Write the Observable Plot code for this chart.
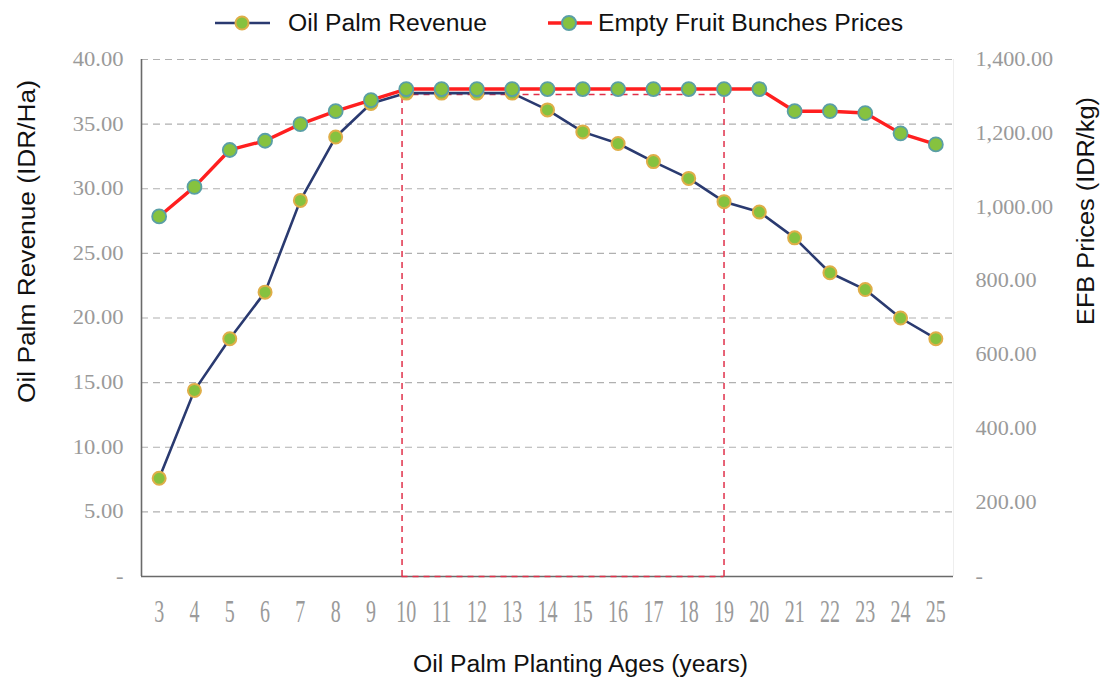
<!DOCTYPE html>
<html>
<head>
<meta charset="utf-8">
<script src="https://cdn.jsdelivr.net/npm/d3@7"></script>
<script src="https://cdn.jsdelivr.net/npm/@observablehq/plot@0.6"></script>
<style>
  html, body { margin: 0; padding: 0; background: #fff; }
  #wrap { position: relative; width: 1105px; height: 679px; overflow: hidden; }
  #wrap svg { position: absolute; left: 0; top: 0; }
  #overlay { pointer-events: none; }
</style>
</head>
<body>
<div id="wrap"></div>
<script>
// ---- data ----
const ages = [3, 4, 5, 6, 7, 8, 9, 10, 11, 12, 13, 14, 15, 16, 17, 18, 19, 20, 21, 22, 23, 24, 25];
const revenue = [7.6, 14.4, 18.4, 22.0, 29.1, 34.0, 36.6, 37.4, 37.4, 37.4, 37.4, 36.1, 34.4, 33.5, 32.1, 30.8, 29.0, 28.2, 26.2, 23.5, 22.2, 20.0, 18.4];
const efbPrices = [975, 1055, 1155, 1180, 1225, 1260, 1290, 1320, 1320, 1320, 1320, 1320, 1320, 1320, 1320, 1320, 1320, 1320, 1260, 1260, 1255, 1200, 1170];
const leftTicks = [0, 5, 10, 15, 20, 25, 30, 35, 40];
const rightTicks = [0, 200, 400, 600, 800, 1000, 1200, 1400];
const highlightAges = [9.88, 19];
const highlightLevel = 37.3;
const seriesNames = ["Oil Palm Revenue", "Empty Fruit Bunches Prices"];
const xTitle = "Oil Palm Planting Ages (years)";
const yLeftTitle = "Oil Palm Revenue (IDR/Ha)";
const yRightTitle = "EFB Prices (IDR/kg)";

const ratio = 1400 / 40; // right axis units per left axis unit

const revData = ages.map((a, i) => ({age: a, value: revenue[i]}));
const efbData = ages.map((a, i) => ({age: a, value: efbPrices[i] / ratio}));

const navy = "#2a3a70";
const red = "#ff1f1f";
const dashRed = "#e0304a";
const green = "#86c23f";
const gridGray = "#b0b0b0";
const tickGray = "#9a9a9a";
const fmt = d3.format(",.2f");

const chart = Plot.plot({
  width: 1105,
  height: 679,
  marginLeft: 141,
  marginRight: 152,
  marginTop: 59,
  marginBottom: 103,
  x: {domain: [2.5, 25.5]},
  y: {domain: [0, 40]},
  style: {fontFamily: "'Liberation Serif', serif", background: "white"},
  marks: [
    Plot.ruleY(leftTicks.filter(d => d > 0), {stroke: gridGray, strokeWidth: 1.2, strokeDasharray: "7,5"}),
    Plot.ruleX([25.5], {stroke: "#eeeeee"}),
    Plot.ruleX([2.5], {stroke: "#6a6a6a", strokeWidth: 1.6}),
    Plot.ruleY([0], {stroke: "#6a6a6a", strokeWidth: 1.6}),
    Plot.ruleX(highlightAges, {y1: 0, y2: highlightLevel, stroke: dashRed, strokeWidth: 1.5, strokeDasharray: "6,5"}),
    Plot.ruleY([highlightLevel], {x1: highlightAges[0], x2: highlightAges[1], stroke: dashRed, strokeWidth: 1.5, strokeDasharray: "6,5"}),
    Plot.ruleY([0], {x1: highlightAges[0], x2: highlightAges[1], stroke: dashRed, strokeWidth: 1.5, strokeDasharray: "6,5"}),
    Plot.line(revData, {x: "age", y: "value", stroke: navy, strokeWidth: 2.6}),
    Plot.dot(revData, {x: "age", y: "value", r: 6.5, fill: green, stroke: "#dfae48", strokeWidth: 2}),
    Plot.line(efbData, {x: "age", y: "value", stroke: red, strokeWidth: 3.4}),
    Plot.dot(efbData, {x: "age", y: "value", r: 7, fill: green, stroke: "#5a9fa6", strokeWidth: 1.8}),
    Plot.axisY(leftTicks, {anchor: "left", tickSize: 0, tickPadding: 18, fontSize: 20, fill: tickGray,
      tickFormat: d => d === 0 ? "-" : d.toFixed(2), label: null}),
    Plot.axisY(rightTicks.map(v => v / ratio), {anchor: "right", tickSize: 0, tickPadding: 22, fontSize: 20, fill: tickGray,
      tickFormat: d => { const v = Math.round(d * ratio); return v === 0 ? "-" : fmt(v); }, label: null}),
    Plot.axisX(ages, {anchor: "bottom", tickSize: 0, tickPadding: 23, fontSize: 20, fill: tickGray,
      tickFormat: d => String(d), label: null})
  ]
});

document.getElementById("wrap").appendChild(chart);

// Stretch tick label glyphs to match the reference's proportions
const svg = d3.select(chart);
svg.selectAll('g[aria-label="x-axis tick label"] text').each(function() {
  const t = this.getAttribute("transform") || "";
  this.setAttribute("transform", t + " scale(1,1.55)");
});
svg.selectAll('g[aria-label="y-axis tick label"]').each(function() {
  const g = d3.select(this);
  const anchor = g.attr("text-anchor");
  const sx = anchor === "start" ? 1.11 : 1.13;
  g.selectAll("text").each(function() {
    const t = this.getAttribute("transform") || "";
    this.setAttribute("transform", t + ` scale(${sx},1)`);
  });
});

// Titles and legend overlay
const ov = d3.select("#wrap").append("svg")
  .attr("id", "overlay")
  .attr("width", 1105).attr("height", 679)
  .attr("font-family", "'Liberation Sans', Arial, sans-serif")
  .attr("fill", "#111");

function title(txt, x, y, len, rot) {
  ov.append("text")
    .attr("transform", `translate(${x},${y})` + (rot ? ` rotate(${rot})` : ""))
    .attr("text-anchor", "middle")
    .attr("dominant-baseline", "central")
    .attr("font-size", 23)
    .attr("textLength", len)
    .attr("lengthAdjust", "spacingAndGlyphs")
    .text(txt);
}
title(xTitle, 580.5, 664, 335, 0);
title(yLeftTitle, 27, 241.5, 323, -90);
title(yRightTitle, 1086, 211, 228, -90);

// legend
const leg = [
  {name: seriesNames[0], x1: 215, x2: 270, mx: 242, tx: 288, len: 199, stroke: navy, sw: 2.6, ms: "#dfae48", r: 6.5},
  {name: seriesNames[1], x1: 548, x2: 592, mx: 569, tx: 598, len: 305, stroke: red, sw: 3.4, ms: "#5a9fa6", r: 7}
];
leg.forEach(l => {
  ov.append("line").attr("x1", l.x1).attr("x2", l.x2).attr("y1", 23).attr("y2", 23)
    .attr("stroke", l.stroke).attr("stroke-width", l.sw);
  ov.append("circle").attr("cx", l.mx).attr("cy", 23).attr("r", l.r)
    .attr("fill", green).attr("stroke", l.ms).attr("stroke-width", 2);
  ov.append("text").attr("x", l.tx).attr("y", 23)
    .attr("dominant-baseline", "central").attr("font-size", 23)
    .attr("textLength", l.len).attr("lengthAdjust", "spacingAndGlyphs")
    .text(l.name);
});
</script>
</body>
</html>
